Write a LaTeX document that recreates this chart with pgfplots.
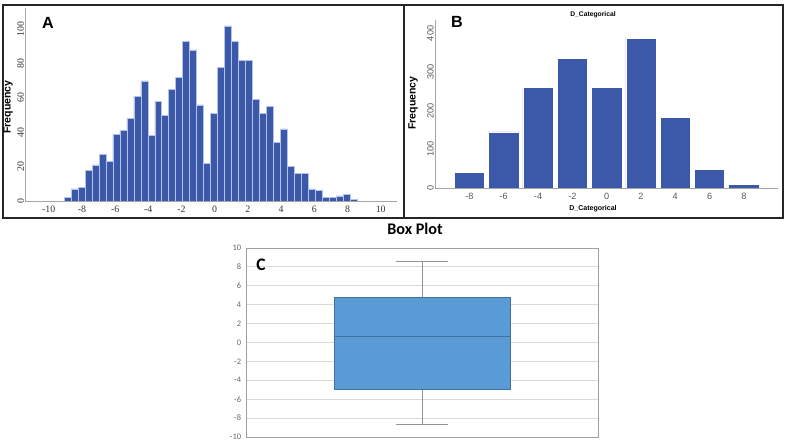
\documentclass[border=0pt]{standalone}
\usepackage{pgfplots}
\pgfplotsset{compat=1.18}
\usepgfplotslibrary{statistics}
\usepackage{fontspec}
\setmainfont{Liberation Sans}
\newfontfamily\timesf{Liberation Serif}
\newfontfamily\calibri{Carlito}
\definecolor{spssblue}{RGB}{60,88,168}
\definecolor{barline}{RGB}{180,195,235}
\definecolor{boxfill}{RGB}{91,155,213}
\definecolor{boxedge}{RGB}{65,113,156}
\definecolor{axisgray}{RGB}{165,165,165}

\begin{document}
\begin{tikzpicture}[x=0.025cm,y=0.025cm]
\useasboundingbox (0,0) rectangle (788,441);

% panel A: histogram, bin width 0.42
\begin{axis}[at={(0.625cm,6.0cm)}, anchor=south west, scale only axis,
  width=9.3cm, height=4.825cm,
  xmin=-11.43, xmax=10.99, ymin=0, ymax=112.5,
  axis x line*=bottom, axis y line*=left,
  axis line style={axisgray, line width=0.6pt, -},
  major tick length=0pt,
  xtick={-10,-8,...,10}, ytick={0,20,...,100},
  /pgf/number format/assume math mode=true,
  ticklabel style={font=\timesf\fontsize{7}{8}\selectfont, text=black!80},
  yticklabel style={rotate=90, anchor=south, inner sep=0.6pt},
]
\addplot[ybar interval, fill=spssblue, draw=barline, line width=0.4pt] coordinates {
(-9.07,2) (-8.65,7) (-8.23,8) (-7.81,18) (-7.39,21) (-6.97,27) (-6.55,23)
(-6.13,39) (-5.71,41) (-5.29,48) (-4.87,61) (-4.45,70) (-4.03,38) (-3.61,58)
(-3.19,50) (-2.77,65) (-2.35,72) (-1.93,93) (-1.51,88) (-1.09,56) (-0.67,22)
(-0.25,51) (0.17,78) (0.59,102) (1.01,93) (1.43,82) (1.85,82) (2.27,59)
(2.69,51) (3.11,55) (3.53,34) (3.95,42) (4.37,20) (4.79,16) (5.21,16)
(5.63,7) (6.05,6) (6.47,2) (6.89,2) (7.31,3) (7.73,4) (8.15,1) (8.57,0)};
\end{axis}

% panel B: categorical bar chart
\begin{axis}[at={(10.875cm,6.325cm)}, anchor=south west, scale only axis,
  width=8.575cm, height=4.2cm,
  xmin=-10, xmax=10, ymin=0, ymax=435,
  axis x line*=bottom, axis y line*=left,
  axis line style={axisgray, line width=0.6pt, -},
  major tick length=0pt,
  xtick={-8,-6,...,8}, ytick={0,100,...,400},
  /pgf/number format/assume math mode=true,
  ticklabel style={font=\fontsize{6.5}{7}\selectfont, text=black!65},
  yticklabel style={rotate=90, anchor=south, inner sep=0.8pt},
]
\addplot[ybar, bar width=1.77, fill=spssblue, draw=white, line width=0.4pt] coordinates {
(-8,40) (-6,145) (-4,260) (-2,335) (0,260) (2,388) (4,182) (6,48) (8,10)};
\end{axis}

% panel C: box plot
\begin{axis}[at={(6.15cm,0.1cm)}, anchor=south west, scale only axis,
  width=8.8cm, height=4.725cm,
  xmin=0, xmax=1, ymin=-10, ymax=10,
  xtick=\empty, ytick={-10,-8,...,10},
  ymajorgrids, grid style={gray!30, line width=0.6pt},
  axis line style={gray!75, line width=0.6pt},
  major tick length=0pt,
  /pgf/number format/assume math mode=true,
  yticklabel style={font=\calibri\fontsize{6}{7}\selectfont, text=black!60},
]
\addplot[boxplot/draw direction=y,
  boxplot prepared={draw position=0.5, median=0.6,
    upper quartile=4.8, lower quartile=-5.0,
    upper whisker=8.6, lower whisker=-8.65,
    box extend=0.5, whisker extend=0.148},
  boxplot/every box/.style={fill=boxfill, draw=boxedge, line width=0.5pt},
  boxplot/every whisker/.style={draw=gray!85, line width=0.5pt},
  boxplot/every median/.style={draw=boxedge, line width=0.5pt},
] coordinates {};
\end{axis}

% frames and labels
\draw[line width=1.3pt, black!85] (3,436) rectangle (404,223);
\draw[line width=1.3pt, black!85] (404,436) rectangle (783,223);

\node[font=\bfseries\fontsize{11.5}{12}\selectfont] at (48,418) {A};
\node[font=\bfseries\fontsize{11.5}{12}\selectfont] at (457,419) {B};
\node[font=\calibri\bfseries\fontsize{12.5}{13}\selectfont] at (261,176) {C};
\node[font=\calibri\bfseries\fontsize{11.5}{12}\selectfont] at (415,212) {Box Plot};
\node[rotate=90, font=\bfseries\fontsize{7.5}{8}\selectfont] at (8,334) {Frequency};
\node[rotate=90, font=\bfseries\fontsize{7.5}{8}\selectfont] at (413,338) {Frequency};
\node[font=\bfseries\fontsize{4.8}{5}\selectfont] at (593,426) {D\_Categorical};
\node[font=\bfseries\fontsize{5}{6}\selectfont] at (593,232) {D\_Categorical};
\end{tikzpicture}
\end{document}
